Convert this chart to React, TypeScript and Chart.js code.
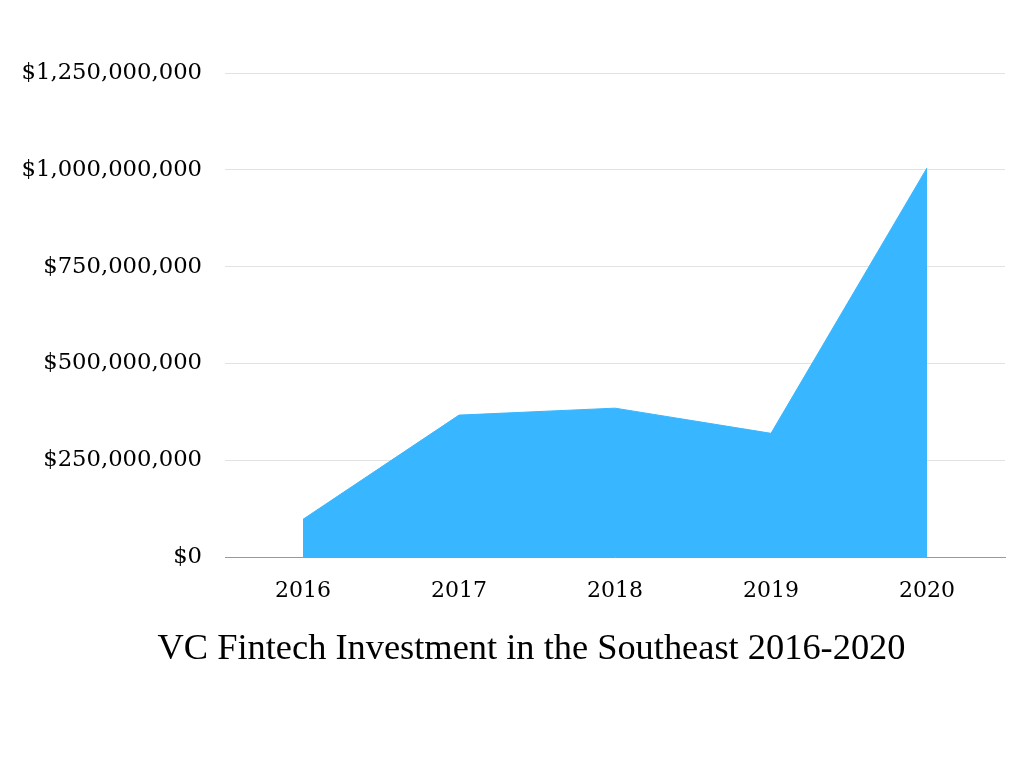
import React, { useEffect, useRef } from "react";
import { Chart, registerables } from "chart.js";

Chart.register(...registerables);

const years = ["2016", "2017", "2018", "2019", "2020"];
const investment = [98000000, 367000000, 385000000, 320000000, 1005000000];
const yMax = 1250000000;
const yStep = 250000000;
const titleText = "VC Fintech Investment in the Southeast 2016-2020";

const unclipYLabels = {
  id: "unclipYLabels",
  afterLayout(chart: any) {
    const y = chart.scales.y;
    if (y) y.left = 0;
  },
};

export default function App() {
  const ref = useRef<HTMLCanvasElement | null>(null);
  useEffect(() => {
    document.body.style.margin = "0";
    const ctx = ref.current!.getContext("2d")!;
    const chart = new Chart(ctx, {
      type: "line",
      data: {
        labels: years,
        datasets: [
          {
            data: investment,
            fill: "origin",
            backgroundColor: "#38b6ff",
            borderColor: "#38b6ff",
            borderWidth: 1,
            pointRadius: 0,
            tension: 0,
          },
        ],
      },
      plugins: [unclipYLabels],
      options: {
        animation: false,
        responsive: false,
        layout: { padding: { top: 73, right: 19, bottom: 97, left: 58 } },
        plugins: {
          legend: { display: false },
          tooltip: { enabled: false },
          title: {
            display: true,
            position: "bottom",
            text: titleText,
            color: "#000",
            font: { family: "Liberation Serif", size: 36.4, weight: "normal" },
            padding: { top: 30, bottom: 0 },
          },
        },
        scales: {
          x: {
            offset: true,
            grid: { display: false, drawTicks: false },
            border: { display: true, color: "#999", width: 1 },
            ticks: {
              color: "#000",
              padding: 21,
              font: { family: "DejaVu Serif", size: 22 },
              maxRotation: 0,
            },
            afterFit: (s: any) => {
              s.height = 40;
            },
          },
          y: {
            min: 0,
            max: yMax,
            grid: { color: "#e2e2e2", drawTicks: false },
            border: { display: false },
            ticks: {
              stepSize: yStep,
              color: "#000",
              padding: 23,
              font: { family: "DejaVu Serif", size: 22.7 },
              callback: (v: any) => "$" + Number(v).toLocaleString("en-US"),
            },
            afterFit: (s: any) => {
              s.width = 167;
            },
          },
        },
      },
    });
    return () => chart.destroy();
  }, []);
  return (
    <div style={{ position: "absolute", left: 0, top: 0, width: 1024, height: 768, background: "#fff" }}>
      <canvas ref={ref} width={1024} height={768} />
    </div>
  );
}
